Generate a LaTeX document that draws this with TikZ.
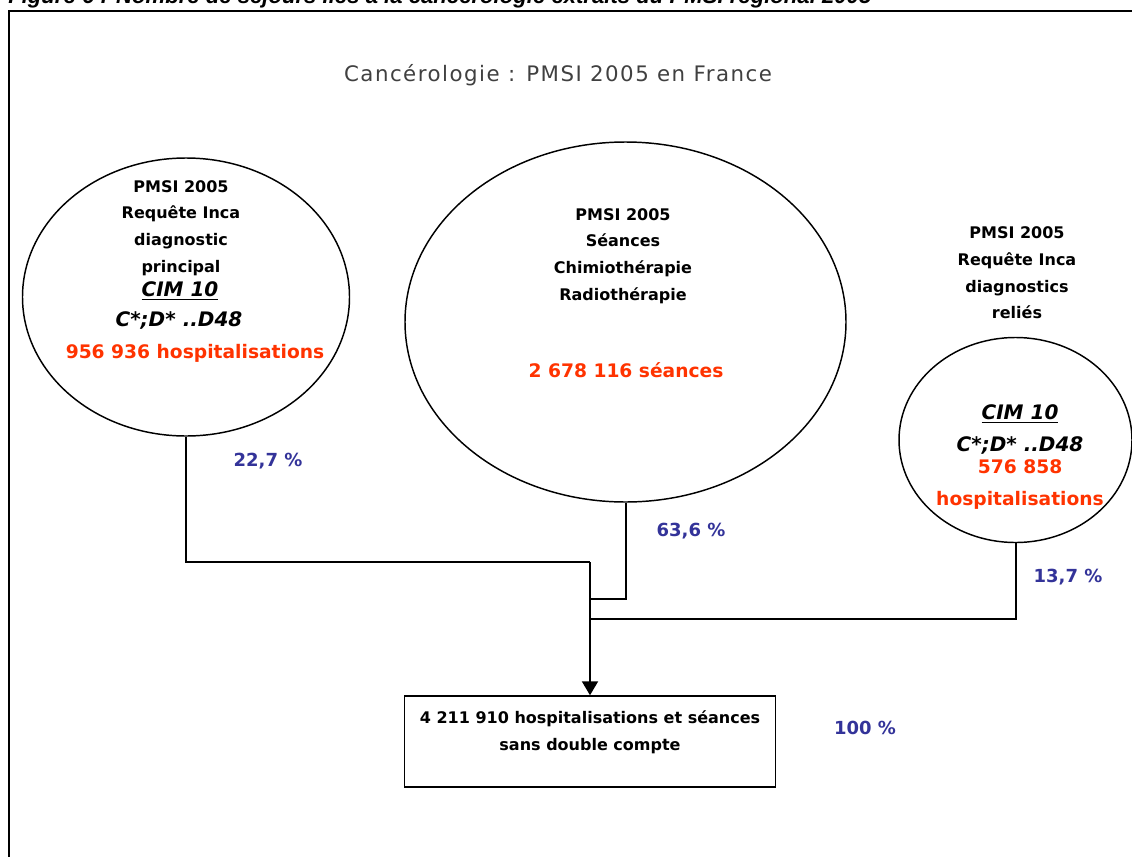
\documentclass[tikz,border=0pt]{standalone}
\usepackage{fontspec}
\setmainfont{DejaVu Sans}
\newfontfamily\captionfont{Liberation Sans}
\newfontfamily\titlefont{DejaVu Sans}[LetterSpace=7]
\usetikzlibrary{positioning, arrows.meta, shapes.geometric}
\definecolor{pmsiRed}{HTML}{FF3300}
\definecolor{pmsiBlue}{HTML}{333399}
\definecolor{pmsiGray}{HTML}{404040}

\begin{document}
\begin{tikzpicture}[
    x=0.75pt, y=-0.75pt,
    circ/.style={draw, ellipse, line width=1.1pt, inner sep=0pt},
    lbl/.style={
        font=\fontsize{12}{20}\selectfont\bfseries,
        inner sep=0pt, text centered, align=center
    },
    code/.style={font=\fontsize{15}{18}\selectfont\bfseries\itshape, inner sep=0pt},
    count/.style={
        font=\fontsize{14}{24}\selectfont\bfseries,
        text=pmsiRed, inner sep=0pt, text centered, align=center
    },
    share/.style={font=\fontsize{13.5}{16}\selectfont\bfseries, text=pmsiBlue, inner sep=0pt},
    conn/.style={line width=1.5pt},
    arr/.style={line width=1.5pt, -{Triangle[width=12pt, length=10.5pt]}},
]
\useasboundingbox (0,0) rectangle (1132,857);
\clip (0,0) rectangle (1132,857);

%% =================================================================
%% Caption (cut at the top) and frame
%% =================================================================
\node[anchor=base west, inner sep=0pt,
      font=\captionfont\fontsize{16.6}{18}\selectfont\bfseries\itshape] (caption)
    at (8, 3)
    {Figure 6 : Nombre de séjours liés à la cancérologie extraits du PMSI régional 2005};

\draw[line width=1.6pt] (9, 870) -- (9, 11) -- (1140, 11);

\node[font=\titlefont\fontsize{16}{18}\selectfont, text=pmsiGray] (title)
    at (558, 75) {Cancérologie : PMSI 2005 en France};

%% =================================================================
%% Diagnostic principal (left)
%% =================================================================
\node[circ, minimum width=245.25pt, minimum height=208.5pt] (hp) at (186, 297) {};
\node[lbl] (hpTxt) at (181, 228) {PMSI 2005\\Requête Inca\\diagnostic\\principal};
\node[code] (hpCim) at (180, 291) {\underline{CIM 10}};
\node[code] (hpCode) at (179, 320) {C*;D* ..D48};
\node[count] (hpNum) at (195, 353) {956 936 hospitalisations};

%% =================================================================
%% Seances (centre)
%% =================================================================
\node[circ, minimum width=330.75pt, minimum height=270pt] (se) at (625.5, 322) {};
\node[lbl] (seTxt) at (623, 256) {PMSI 2005\\Séances\\Chimiothérapie\\Radiothérapie};
\node[count] (seNum) at (626, 370) {2 678 116 séances};

%% =================================================================
%% Diagnostics relies (right)
%% =================================================================
\node[circ, minimum width=174.75pt, minimum height=153.75pt] (re) at (1015.5, 440) {};
\node[lbl] (reTxt) at (1017, 273) {PMSI 2005\\Requête Inca\\diagnostics\\reliés};
\node[code] (reCim) at (1020, 414) {\underline{CIM 10}};
\node[code] (reCode) at (1020, 445) {C*;D* ..D48};
\node[count] (reNum) at (1020, 485) {576 858\\hospitalisations};

%% =================================================================
%% Total box
%% =================================================================
\node[draw, line width=1.1pt, minimum width=278.25pt, minimum height=68.25pt] (total)
    at (590, 741.5) {};
\node[lbl] (totalTxt) at (590, 732) {4 211 910 hospitalisations et séances\\sans double compte};

%% Merging connectors
\coordinate (mergeHp) at (590, 562);
\coordinate (mergeSe) at (590, 599);
\coordinate (mergeRe) at (590, 619);
\draw[conn] (hp.south) |- (mergeHp);
\draw[conn] (se.south) |- (mergeSe);
\draw[conn] (re.south) |- (mergeRe);
\draw[arr] (mergeHp) -- (total.north);

%% Shares
\node[share] (pHp) at (268, 461) {22,7 \%};
\node[share] (pSe) at (691, 531) {63,6 \%};
\node[share] (pRe) at (1068, 577) {13,7 \%};
\node[share] (pTot) at (865, 728) {100 \%};

\end{tikzpicture}
\end{document}
